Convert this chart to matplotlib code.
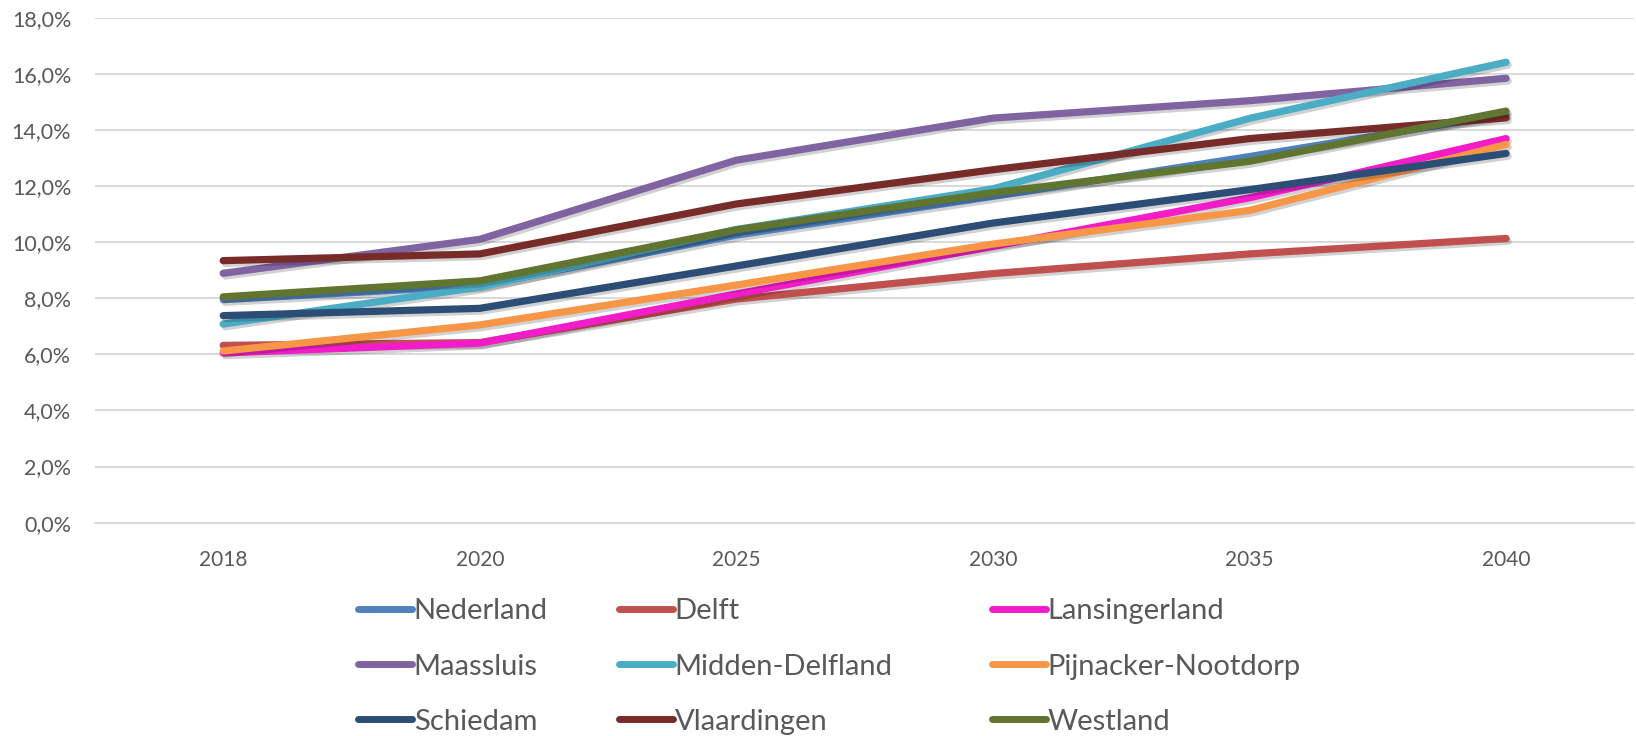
"""
Vergrijzing per gemeente - aandeel 80+ (prognose 2018-2040)
"""

import matplotlib
matplotlib.use('Agg')
import matplotlib.pyplot as plt
import matplotlib.patheffects as pe
from matplotlib.ticker import FuncFormatter

# ----------------------------------------
# Data (percentages)
# ----------------------------------------
years = ['2018', '2020', '2025', '2030', '2035', '2040']

nederland = [7.95, 8.45, 10.25, 11.63, 13.05, 14.56]
delft = [6.32, 6.42, 7.97, 8.88, 9.58, 10.13]
lansingerland = [6.05, 6.40, 8.15, 9.85, 11.58, 13.69]
maassluis = [8.89, 10.10, 12.92, 14.42, 15.04, 15.84]
midden_delfland = [7.08, 8.40, 10.45, 11.90, 14.41, 16.41]
pijnacker_nootdorp = [6.12, 7.05, 8.47, 9.93, 11.13, 13.48]
schiedam = [7.38, 7.64, 9.15, 10.68, 11.87, 13.16]
vlaardingen = [9.34, 9.58, 11.36, 12.58, 13.69, 14.43]
westland = [8.05, 8.62, 10.44, 11.76, 12.88, 14.67]

labels = ['Nederland', 'Delft', 'Lansingerland', 'Maassluis', 'Midden-Delfland',
          'Pijnacker-Nootdorp', 'Schiedam', 'Vlaardingen', 'Westland']
series = [nederland, delft, lansingerland, maassluis, midden_delfland,
          pijnacker_nootdorp, schiedam, vlaardingen, westland]
colors = ['#4F81BD', '#C0504D', '#F21DC9', '#8064A2', '#4BACC6',
          '#F79646', '#2C4D75', '#772C2A', '#5F7530']

text_color = '#595959'
grid_color = '#D9D9D9'

plt.rcParams['font.family'] = ['Lato', 'DejaVu Sans']

fig = plt.figure(figsize=(16.36, 7.36), dpi=100)
ax = fig.add_axes([0.058, 0.2898, 0.941, 0.6862])

x = list(range(len(years)))
shadow = [pe.SimpleLineShadow(offset=(1.5, -2), shadow_color='#000000', alpha=0.18),
          pe.Normal()]
lines = []
for vals, lab, col in zip(series, labels, colors):
    ln, = ax.plot(x, vals, color=col, linewidth=5.2, label=lab,
                  solid_capstyle='round', solid_joinstyle='round',
                  path_effects=shadow)
    lines.append(ln)

ax.set_xlim(-0.5, len(years) - 0.5)
ax.set_ylim(0, 18)
ax.set_yticks(range(0, 19, 2))
ax.yaxis.set_major_formatter(FuncFormatter(lambda v, p: f'{v:.1f}%'.replace('.', ',')))
ax.set_xticks(x)
ax.set_xticklabels(years)

ax.grid(axis='y', color=grid_color, linewidth=1.4)
ax.set_axisbelow(True)
for side in ['top', 'right', 'left']:
    ax.spines[side].set_visible(False)
ax.spines['bottom'].set_color(grid_color)
ax.spines['bottom'].set_linewidth(1.4)
ax.tick_params(axis='both', length=0, labelsize=15, colors=text_color)
ax.tick_params(axis='y', pad=17, labelsize=15.5)
ax.tick_params(axis='x', pad=20)

# Legend: three columns, filled row by row
col_x = [0.2191, 0.3785, 0.6065]
for c in range(3):
    hs = [lines[c], lines[c + 3], lines[c + 6]]
    leg = fig.legend(handles=hs, labels=[h.get_label() for h in hs],
                     loc='upper left', bbox_to_anchor=(col_x[c], 0.187),
                     frameon=False, fontsize=21, handlelength=1.85,
                     handletextpad=0.05, labelspacing=1.0,
                     borderaxespad=0, borderpad=0)
    for t in leg.get_texts():
        t.set_color(text_color)
    for lh in leg.get_lines():
        lh.set_path_effects([])
        lh.set_linewidth(5)

fig.savefig('out.png', dpi=100)
